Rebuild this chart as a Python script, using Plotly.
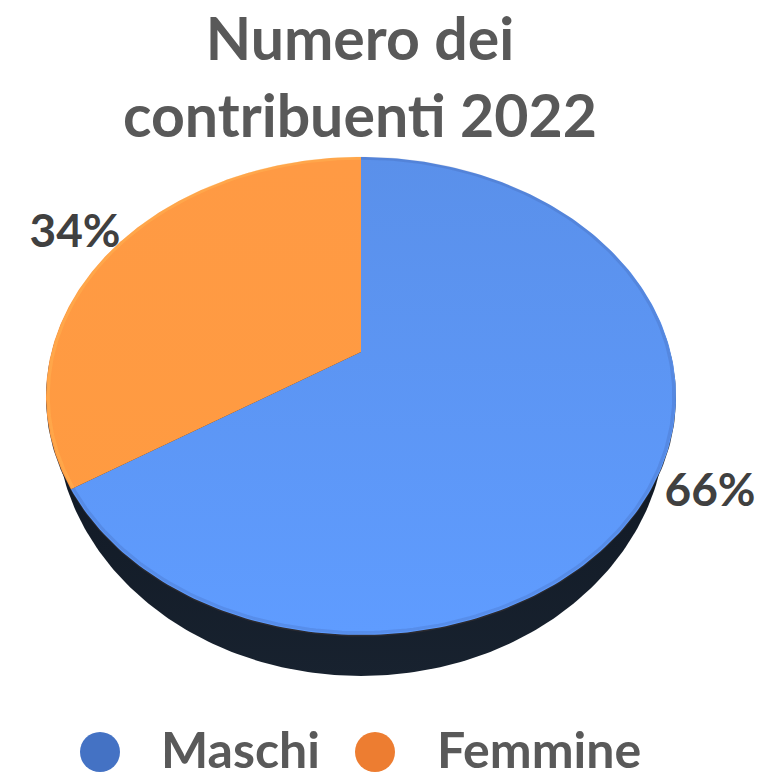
import numpy as np
import plotly.graph_objects as go

# ---- data ----
categories = ["Maschi", "Femmine"]
values = [66, 34]
title_text = "Numero dei<br>contribuenti 2022"

# ---- style / geometry ----
W, H = 769, 778
CX = 361
TOP, APEX, BOTTOM = 157, 352, 635
RX = 315
slice_grad = {
    "Maschi": [[0, "#5a90ea"], [1, "#5f9cff"]],
    "Femmine": [[0, "#ff9a44"], [1, "#ff9b40"]],
}
legend_colors = {"Maschi": "#4472c4", "Femmine": "#ed7d31"}
label_pos = {"Maschi": (710, 494), "Femmine": (75, 235)}
legend_marker_x = {"Maschi": 100, "Femmine": 375}
legend_text_x = {"Maschi": 159, "Femmine": 435}
LEG_Y = 749
FONT = "Lato"
GREY = "#595959"

# perspective projection of the pie disc onto the page
c = (APEX - TOP - (BOTTOM - APEX)) / (TOP - BOTTOM)
a = TOP * (c + 1) - APEX
K = RX * np.sqrt(1 - c * c)


def project(theta, r=1.0):
    u, v = r * np.sin(theta), r * np.cos(theta)
    d = 1 + c * v
    return CX + K * u / d, (a * v + APEX) / d


def wedge(start, stop):
    t = np.linspace(start, stop, 240)
    x, y = project(t)
    return np.r_[CX, x, CX], np.r_[APEX, y, APEX]


fig = go.Figure()

# cylinder side
t = np.linspace(0, 2 * np.pi, 360)
fig.add_trace(go.Scatter(
    x=CX + 305 * np.sin(t), y=420 + 256 * np.cos(t), mode="lines", fill="toself",
    line=dict(width=0), hoverinfo="skip", showlegend=False,
    fillgradient=dict(type="vertical", start=400, stop=680,
                      colorscale=[[0, "#0f1722"], [1, "#18222f"]]),
))
ex, ey = project(t)
fig.add_trace(go.Scatter(
    x=ex, y=ey + 1.5, mode="lines", fill="toself", fillcolor="#2a2a30",
    line=dict(width=0), hoverinfo="skip", showlegend=False,
))

# slices, clockwise from 12 o'clock
total = sum(values)
angle = 0.0
for name, val in zip(categories, values):
    end = angle + 2 * np.pi * val / total
    x, y = wedge(angle, end)
    fig.add_trace(go.Scatter(
        x=x, y=y, mode="lines", fill="toself", name=name,
        line=dict(width=0), showlegend=False, hoverinfo="name",
        fillgradient=dict(type="vertical", start=TOP, stop=BOTTOM,
                          colorscale=slice_grad[name]),
    ))
    # soft rim, just inside the edge
    ta = np.linspace(angle, end, 240)
    rx_, ry_ = project(ta, 0.993)
    fig.add_trace(go.Scatter(
        x=rx_, y=ry_, mode="lines", hoverinfo="skip", showlegend=False,
        line=dict(width=3, color="rgba(40,60,110,0.14)" if name == "Maschi" else "rgba(255,190,90,0.35)"),
    ))
    lx, ly = label_pos[name]
    fig.add_trace(go.Scatter(
        x=[lx], y=[ly], mode="text", text=[f"<b>{val}%</b>"], textposition="middle center",
        textfont=dict(family=FONT, size=46, color="#404040"),
        hoverinfo="skip", showlegend=False,
    ))
    angle = end

# legend row
for name in categories:
    fig.add_trace(go.Scatter(
        x=[legend_marker_x[name]], y=[752], mode="markers",
        marker=dict(size=40, color=legend_colors[name], line=dict(width=0)),
        hoverinfo="skip", showlegend=False,
    ))
    fig.add_annotation(
        x=legend_text_x[name], y=LEG_Y, xref="x", yref="y", xanchor="left", yanchor="middle",
        text=f"<b>{name}</b>", showarrow=False,
        font=dict(family=FONT, size=50, color=GREY),
    )

fig.update_layout(
    width=W, height=H, margin=dict(l=0, r=0, t=0, b=0),
    paper_bgcolor="white", plot_bgcolor="white", showlegend=False,
    title=dict(text=f"<b>{title_text}</b>", x=360 / W, xanchor="center", y=1 - 60 / H, yanchor="top",
               font=dict(family=FONT, size=59, color=GREY)),
    xaxis=dict(range=[0, W], visible=False, fixedrange=True),
    yaxis=dict(range=[H, 0], visible=False, fixedrange=True),
)
fig.write_html("out.html", config={"displayModeBar": False},
               post_script="document.body.style.margin='0';")
